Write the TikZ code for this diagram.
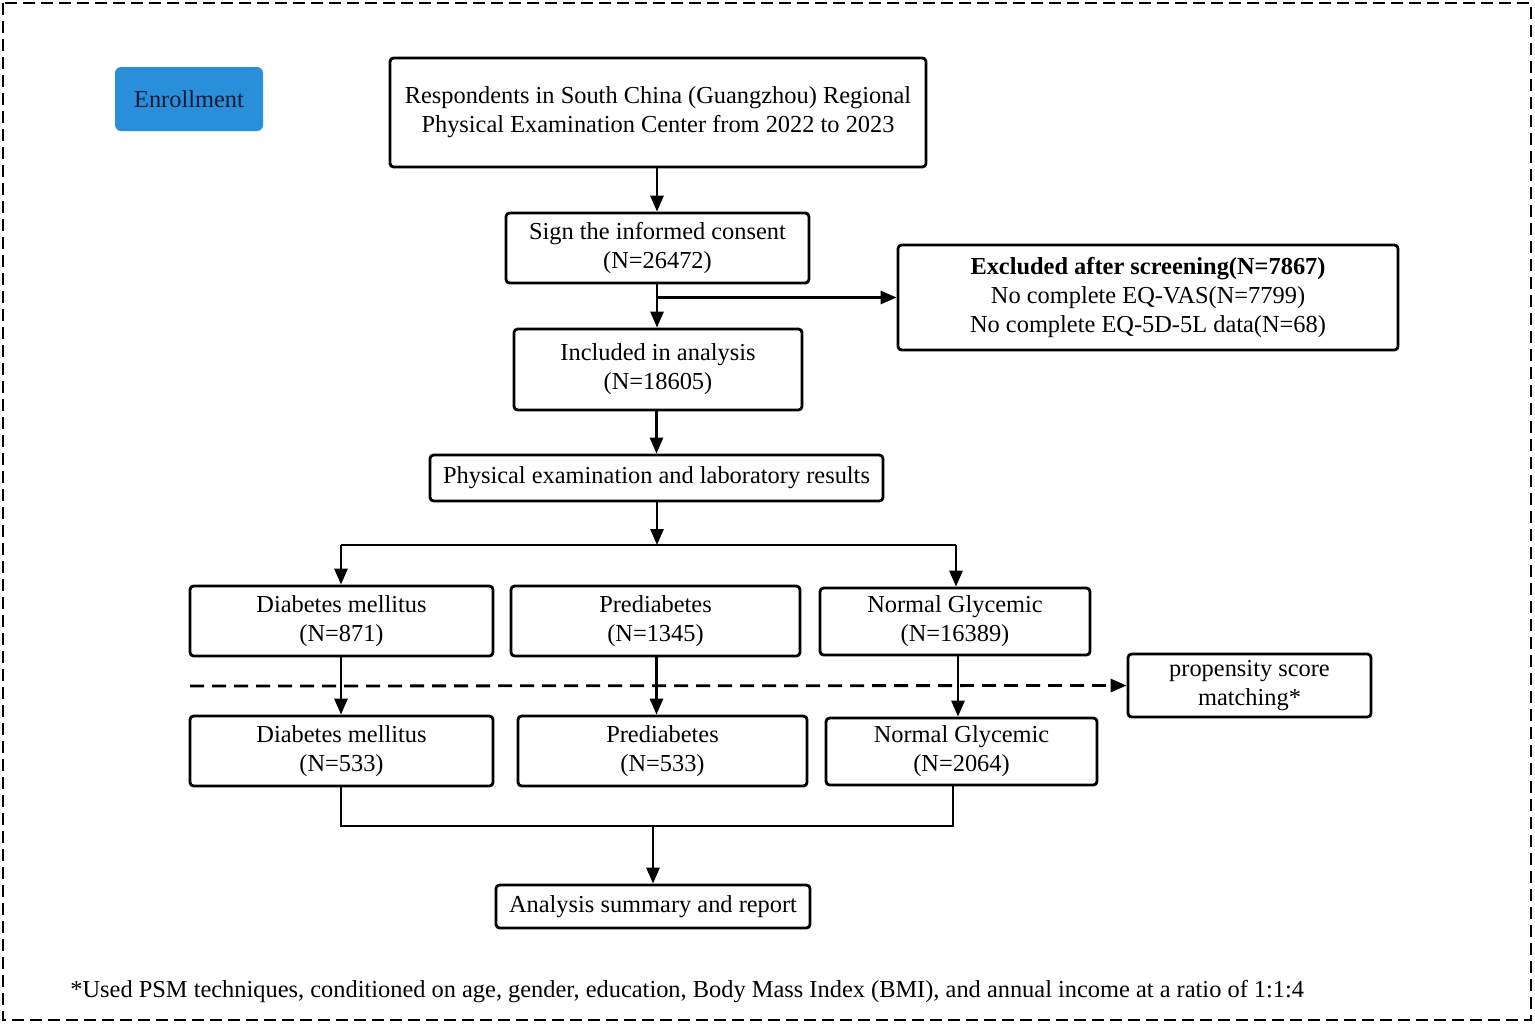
\documentclass[tikz,border=0pt]{standalone}
\usepackage{fontspec}
\setmainfont{Liberation Serif}
\usetikzlibrary{arrows.meta}
\definecolor{enrblue}{HTML}{2A8FDA}
\definecolor{enrtext}{HTML}{0B1B35}
\begin{document}
\begin{tikzpicture}[x=0.5pt,y=-0.5pt,
  font=\fontsize{12.2}{14.6}\selectfont,
  box/.style={draw, line width=1.4pt, rounded corners=1.8pt, align=center, inner sep=0pt},
  arr/.style={line width=1.4pt, -{Triangle[length=8pt,width=6.5pt]}},
  ln/.style={line width=1.4pt}]
\useasboundingbox (0,0) rectangle (1535,1023);
\draw[line width=1.4pt, dash pattern=on 6pt off 3pt] (3,3) rectangle (1531,1020);

\node[fill=enrblue, rounded corners=3pt, minimum width=74pt, minimum height=32pt, text=enrtext, inner sep=0pt] (enr) at (189,99) {Enrollment};

\node[box, minimum width=268pt, minimum height=54.5pt] (b1) at (658,112.5) {Respondents in South China (Guangzhou) Regional\\Physical Examination Center from 2022 to 2023};
\node[box, minimum width=151.5pt, minimum height=35pt] (b2) at (657.5,248) {Sign the informed consent\\(N=26472)};
\node[box, minimum width=250pt, minimum height=52.5pt] (exc) at (1148,297.5) {\textbf{Excluded after screening(N=7867)}\\No complete EQ-VAS(N=7799)\\No complete EQ-5D-5L data(N=68)};
\node[box, minimum width=144pt, minimum height=40.5pt] (b3) at (658,369.5) {Included in analysis\\(N=18605)};
\node[box, minimum width=226.5pt, minimum height=23pt] (phys) at (656.5,478) {Physical examination and laboratory results};

\node[box, minimum width=151.5pt, minimum height=35pt] (dm1) at (341.5,621) {Diabetes mellitus\\(N=871)};
\node[box, minimum width=144.5pt, minimum height=35pt] (pre1) at (655.5,621) {Prediabetes\\(N=1345)};
\node[box, minimum width=135pt, minimum height=33.5pt] (ng1) at (955,621.5) {Normal Glycemic\\(N=16389)};
\node[box, minimum width=121.5pt, minimum height=31.5pt] (psm) at (1249.5,685.5) {propensity score\\matching*};
\node[box, minimum width=151.5pt, minimum height=35pt] (dm2) at (341.5,751) {Diabetes mellitus\\(N=533)};
\node[box, minimum width=144.5pt, minimum height=35pt] (pre2) at (662.5,751) {Prediabetes\\(N=533)};
\node[box, minimum width=135.5pt, minimum height=33.5pt] (ng2) at (961.5,751.5) {Normal Glycemic\\(N=2064)};
\node[box, minimum width=157pt, minimum height=21.5pt] (ana) at (653,906.5) {Analysis summary and report};

\node[anchor=west, inner sep=0pt] (foot) at (70,992) {*Used PSM techniques, conditioned on age, gender, education, Body Mass Index (BMI), and annual income at a ratio of 1:1:4};

\coordinate (c1) at (657,167);
\coordinate (split) at (657,545);
\coordinate (dl) at (341,545);
\coordinate (dr) at (956,545);
\coordinate (ds) at (190,686);
\coordinate (jl) at (341,826);
\coordinate (jr) at (953,826);
\coordinate (jm) at (653,826);
\coordinate (ngx) at (958,655);

\draw[arr] (c1) -- (c1 |- b2.north);
\draw[arr] (b2.south -| c1) -- (c1 |- b3.north);
\draw[arr] (c1 |- exc.west) -- (exc.west);
\draw[arr] (b3.south -| phys.north) -- (phys.north);
\draw[arr] (phys.south -| split) -- (split);
\draw[ln] (dl) -- (dr);
\draw[arr] (dl) -- (dl |- dm1.north);
\draw[arr] (dr) -- (dr |- ng1.north);
\draw[line width=1.4pt, dash pattern=on 7pt off 4pt, -{Triangle[length=8pt,width=6.5pt]}] (ds) -- (psm.west);
\draw[arr] (dm1.south -| dl) -- (dl |- dm2.north);
\draw[arr] (pre1.south -| phys.north) -- (phys.north |- pre2.north);
\draw[arr] (ngx) -- (ngx |- ng2.north);
\draw[ln] (dl |- dm2.south) -- (jl) -- (jr) -- (jr |- ng2.south);
\draw[arr] (jm) -- (ana.north);
\end{tikzpicture}
\end{document}
